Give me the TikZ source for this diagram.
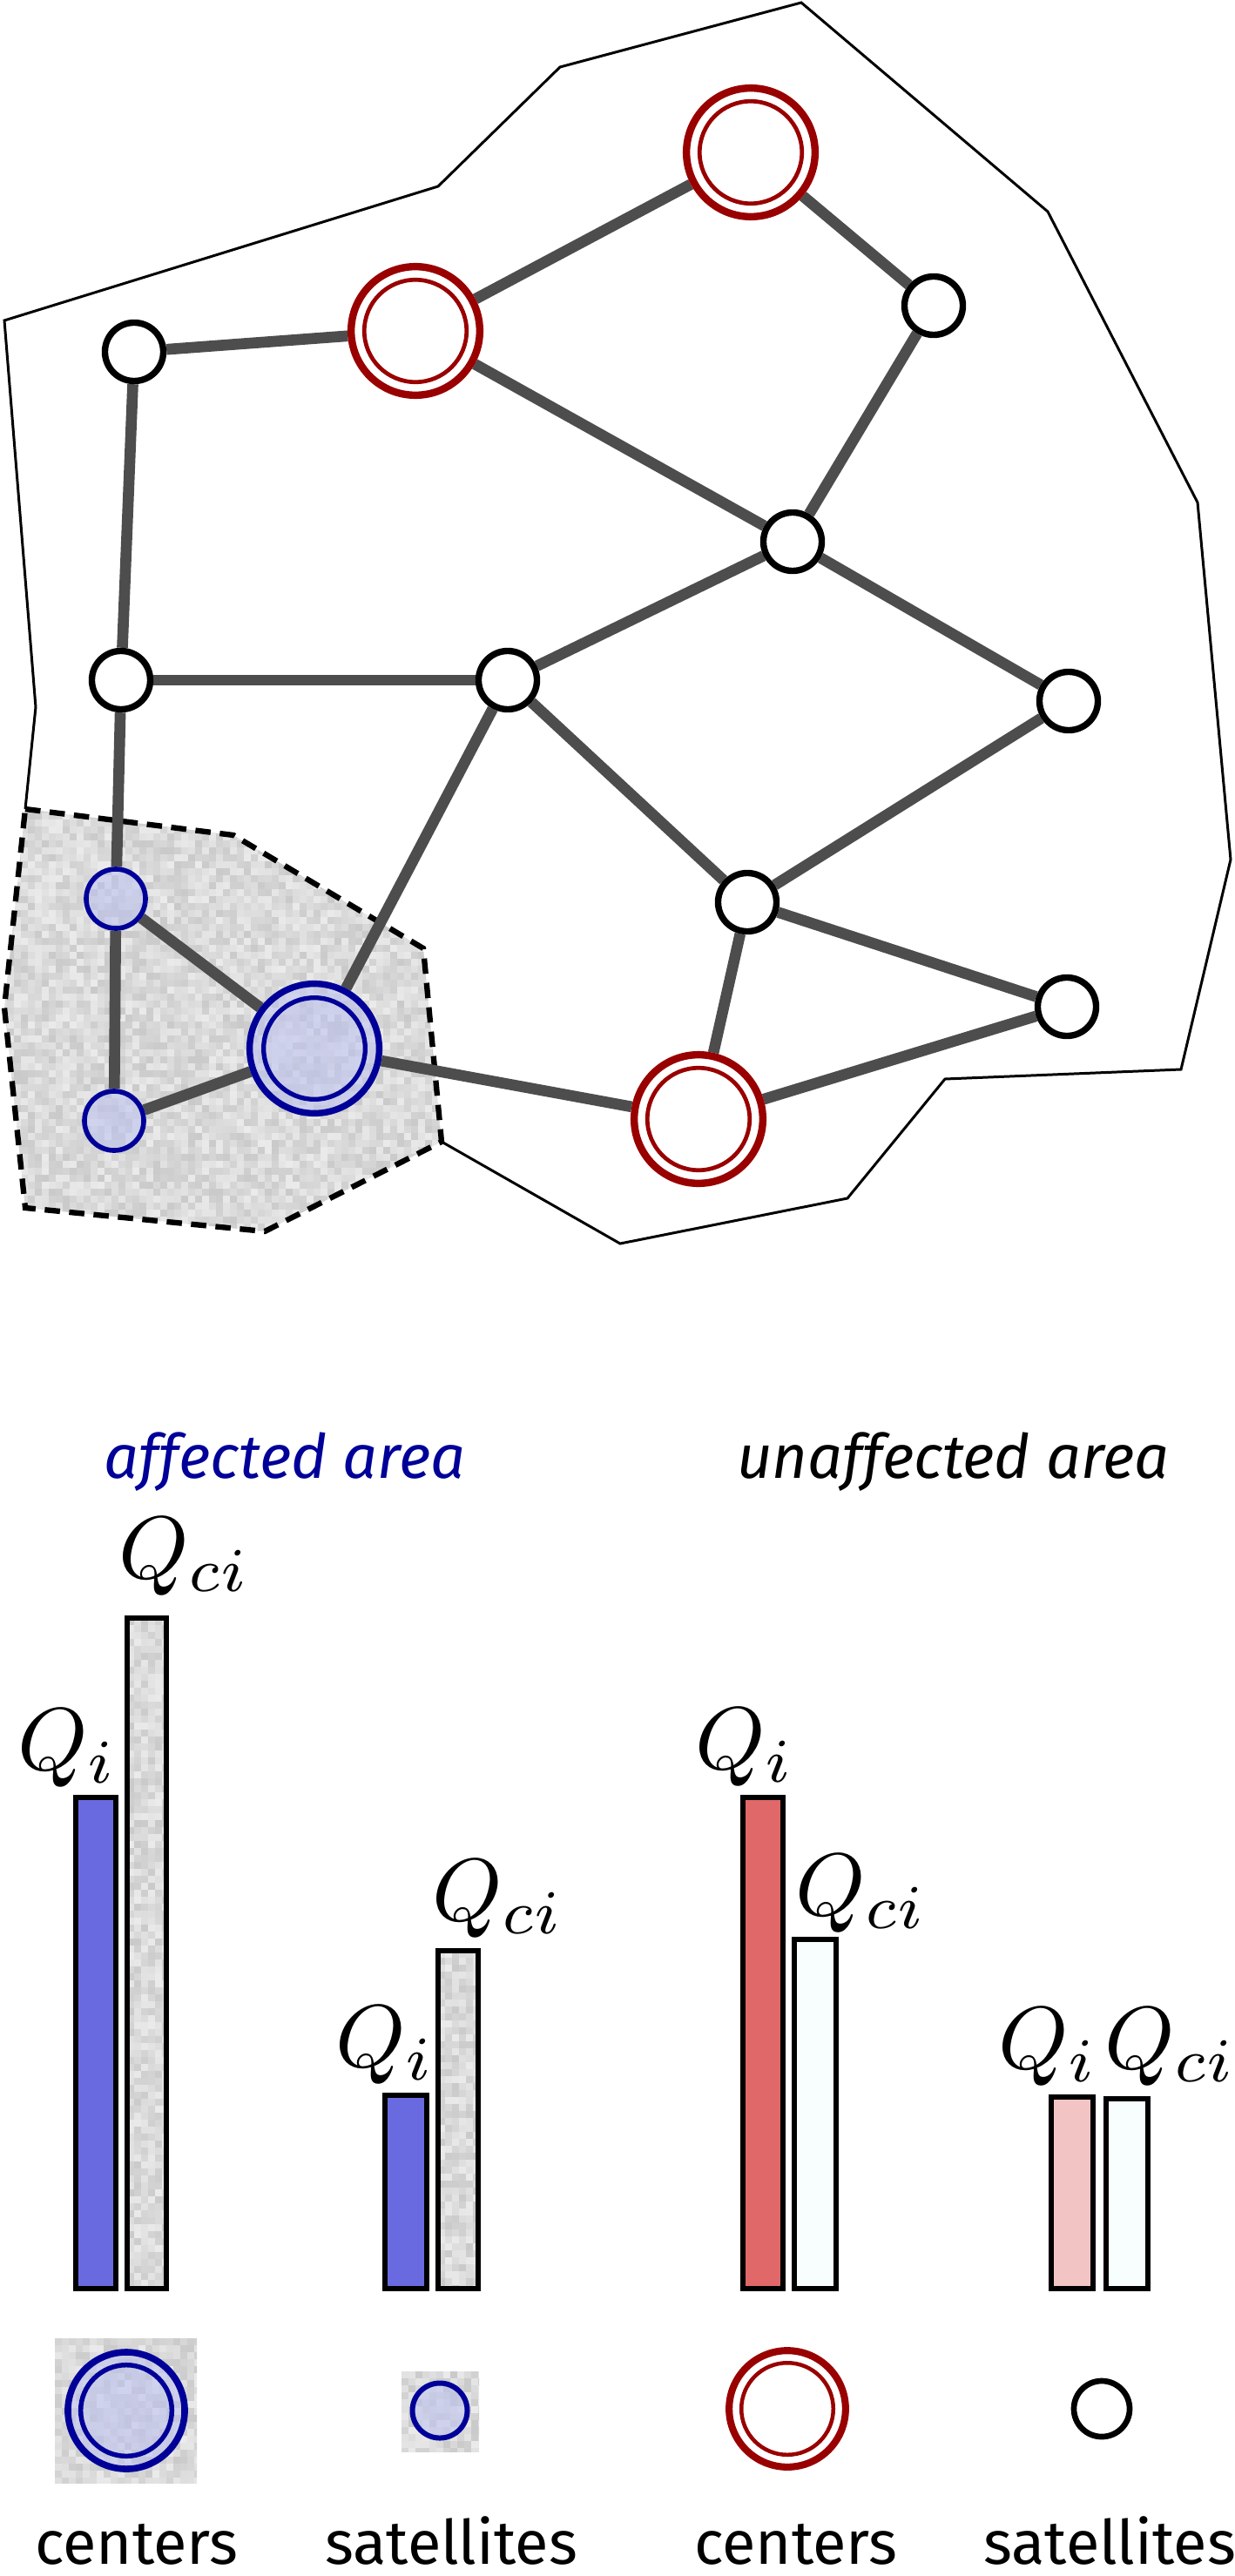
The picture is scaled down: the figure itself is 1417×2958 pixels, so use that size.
\documentclass[tikz,border=0pt]{standalone}
\usepackage{fontspec}
\newfontfamily\labfont{Fira Sans}
\usetikzlibrary{calc}
\definecolor{edgegray}{RGB}{77,77,77}
\definecolor{bluec}{RGB}{0,0,153}
\definecolor{redc}{RGB}{153,0,0}
\definecolor{lav}{RGB}{188,193,240}
\definecolor{barblue}{RGB}{106,106,224}
\definecolor{barred}{RGB}{224,104,104}
\definecolor{barpink}{RGB}{242,196,196}
\definecolor{barwhite}{RGB}{248,253,253}
\pgfdeclarelayer{bg}
\pgfdeclarelayer{edges}
\pgfsetlayers{bg,edges,main}
\newcommand{\noiserect}[5]{%
  \pgfmathtruncatemacro\nnx{ceil((#3-#1)/#5)}%
  \pgfmathtruncatemacro\nny{ceil((#4-#2)/#5)}%
  \foreach \ix in {0,...,\nnx}{\foreach \iy in {0,...,\nny}{%
    \pgfmathsetmacro\gg{8+13*rnd}%
    \fill[black!\gg] ({#1+\ix*#5},{#2+\iy*#5}) rectangle ++({#5+0.7},{#5+0.7});}}}
\tikzset{
  satnode/.style={circle, draw=black, fill=white, line width=2.1pt, minimum size=0.67cm, inner sep=0pt},
  bsatnode/.style={circle, draw=bluec, fill=lav, fill opacity=0.55, line width=1.6pt, minimum size=0.68cm, inner sep=0pt},
  redcen/.style={circle, draw=redc, fill=white, line width=2.4pt, minimum size=1.476cm, inner sep=0pt},
  bluecen/.style={circle, draw=bluec, fill=lav, fill opacity=0.55, line width=2.1pt, minimum size=1.487cm, inner sep=0pt},
  linkline/.style={line width=3.6pt, draw=edgegray},
  barbox/.style={draw=black, line width=1.8pt},
  qlab/.style={anchor=base west, inner sep=0pt, scale=2.9},
  titletext/.style={anchor=base, inner sep=0pt, font=\labfont\itshape\fontsize{20}{24}\selectfont},
  captext/.style={anchor=base, inner sep=0pt, font=\labfont\fontsize{20}{24}\selectfont},
}
\begin{document}
\begin{tikzpicture}[x=0.01cm, y=-0.01cm]
\pgfmathsetseed{42}
\useasboundingbox (0,0) rectangle (1417,2958);

% ---------- background: outline and affected area ----------
\begin{pgfonlayer}{bg}
  \draw[line width=0.85pt, line join=miter]
    (507,1311) -- (712,1428) -- (973,1376) -- (1085,1239) -- (1356,1228)
    -- (1413,987) -- (1375,577) -- (1203,243) -- (920,3) -- (643,77)
    -- (503,214) -- (5,368) -- (41,812) -- (29,929);
  \begin{scope}
    \clip (29,929) -- (268,959) -- (486,1089) -- (507,1311) -- (304,1414)
      -- (29,1387) -- (5,1157) -- cycle;
    \noiserect{0}{925}{510}{1418}{8}
  \end{scope}
  \draw[line width=1.8pt, dash pattern=on 5pt off 3pt]
    (29,929) -- (268,959) -- (486,1089) -- (507,1311) -- (304,1414)
    -- (29,1387) -- (5,1157) -- cycle;
\end{pgfonlayer}

% ---------- network nodes ----------
\node[redcen] (RT) at (862,175) {};
\node[redcen] (R2) at (477,380) {};
\node[redcen] (R3) at (802,1285) {};
\node[satnode] (A) at (154,404) {};
\node[satnode] (B) at (1072,351) {};
\node[satnode] (C) at (910,622) {};
\node[satnode] (D) at (139,781) {};
\node[satnode] (E) at (583,781) {};
\node[satnode] (F) at (1227,805) {};
\node[satnode] (G) at (858,1036) {};
\node[satnode] (H) at (1225,1156) {};
\node[bsatnode] (S1) at (133,1032) {};
\node[bsatnode] (S2) at (131,1287) {};
\node[bluecen] (BC) at (361,1204) {};
\foreach \n in {RT,R2,R3}
  \draw[redc, line width=1.34pt] (\n.center) circle[radius=0.587cm];
\draw[bluec, line width=1.5pt] (BC.center) circle[radius=0.583cm];

% ---------- links ----------
\begin{pgfonlayer}{edges}
  \foreach \a/\b in {A/D, A/R2, R2/RT, RT/B, B/C, R2/C, C/E, C/F, D/E, D/S1,
                     E/BC, E/G, F/G, G/H, G/R3, H/R3, BC/R3, S1/S2, S1/BC, S2/BC}
    \draw[linkline] (\a) -- (\b);
\end{pgfonlayer}

% ---------- titles ----------
\node[titletext, text=bluec] (taff) at (327,1697) {affected area};
\node[titletext, text=black] (tunaff) at (1094,1697) {unaffected area};

% ---------- bars ----------
\fill[barblue] (87,2064) rectangle (133,2628);
\draw[barbox] (87,2064) rectangle (133,2628);
\begin{scope}
  \clip (146,1858) rectangle (191,2628);
  \noiserect{146}{1858}{191}{2628}{8}
\end{scope}
\draw[barbox] (146,1858) rectangle (191,2628);

\fill[barblue] (442,2406) rectangle (490,2628);
\draw[barbox] (442,2406) rectangle (490,2628);
\begin{scope}
  \clip (503,2240) rectangle (549,2628);
  \noiserect{503}{2240}{549}{2628}{8}
\end{scope}
\draw[barbox] (503,2240) rectangle (549,2628);

\draw[barbox, fill=barred] (853,2064) rectangle (899,2628);
\draw[barbox, fill=barwhite] (912,2227) rectangle (960,2628);
\draw[barbox, fill=barpink] (1207,2408) rectangle (1255,2628);
\draw[barbox, fill=barwhite] (1270,2410) rectangle (1318,2628);

% ---------- bar labels ----------
\node[qlab] (q1) at (134,1812) {$Q_{ci}$};
\node[qlab] (q2) at (18,2032) {$Q_{i}$};
\node[qlab] (q3) at (494,2205) {$Q_{ci}$};
\node[qlab] (q4) at (383,2373) {$Q_{i}$};
\node[qlab] (q5) at (796,2031) {$Q_{i}$};
\node[qlab] (q6) at (911,2199) {$Q_{ci}$};
\node[qlab] (q7) at (1144,2375) {$Q_{i}$};
\node[qlab] (q8) at (1266,2375) {$Q_{ci}$};

% ---------- legend icons ----------
\begin{scope}
  \clip (63,2685) rectangle (226,2851);
  \noiserect{63}{2685}{226}{2851}{8}
\end{scope}
\node[bluecen, line width=2.16pt, minimum size=1.34cm] (lgBC) at (145,2768) {};
\draw[bluec, line width=1.56pt] (lgBC.center) circle[radius=0.523cm];
\begin{scope}
  \clip (461,2723) rectangle (550,2815);
  \noiserect{461}{2723}{550}{2815}{8}
\end{scope}
\node[bsatnode, line width=1.7pt, minimum size=0.63cm] (lgBS) at (505,2768) {};
\node[redcen, line width=2.3pt, minimum size=1.336cm] (lgRC) at (904,2766) {};
\draw[redc, line width=1.28pt] (lgRC.center) circle[radius=0.5275cm];
\node[satnode, line width=1.9pt, minimum size=0.64cm] (lgS) at (1265,2766) {};

% ---------- captions ----------
\node[captext] (c1) at (157,2944) {centers};
\node[captext] (c2) at (518,2944) {satellites};
\node[captext] (c3) at (914,2944) {centers};
\node[captext] (c4) at (1274,2944) {satellites};
\end{tikzpicture}
\end{document}
